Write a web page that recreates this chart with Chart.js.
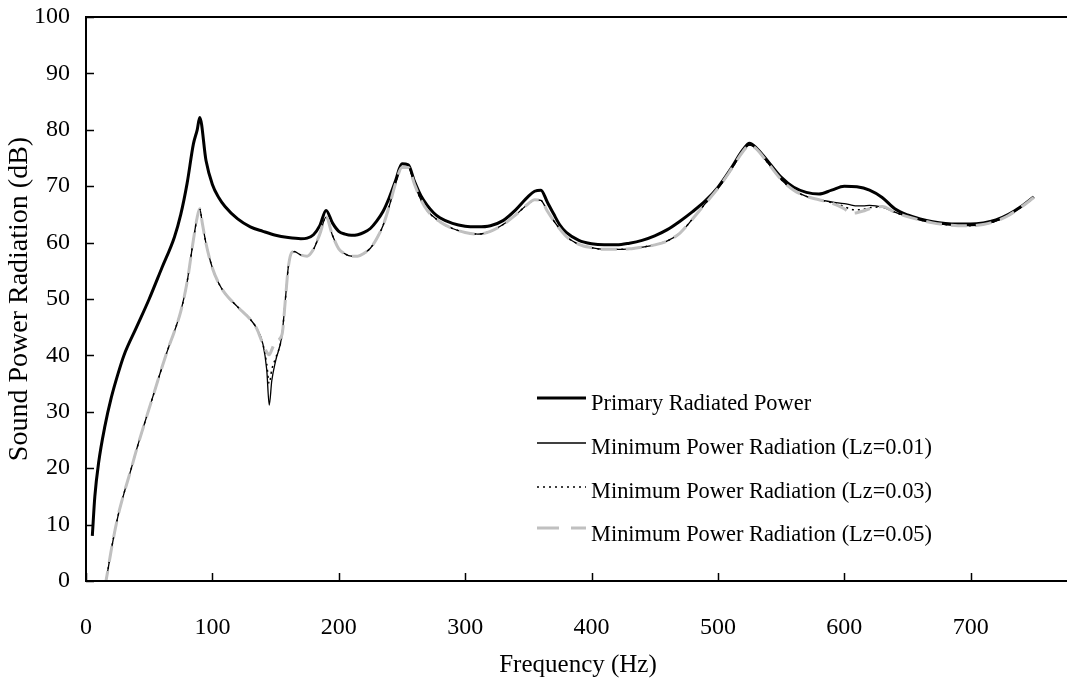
<!DOCTYPE html>
<html>
<head>
<meta charset="utf-8">
<script src="https://cdn.jsdelivr.net/npm/chart.js@4.4.1/dist/chart.umd.min.js"></script>
<style>
  html, body { margin: 0; padding: 0; background: #fff; overflow: hidden; width: 1067px; height: 679px; }
  #c { display: block; }
</style>
</head>
<body>
<canvas id="c" width="1100" height="679"></canvas>
<script>
// ---------- data ----------
const seriesNames = [
  'Primary Radiated Power',
  'Minimum Power Radiation (Lz=0.01)',
  'Minimum Power Radiation (Lz=0.03)',
  'Minimum Power Radiation (Lz=0.05)'
];
const xTickValues = [0, 100, 200, 300, 400, 500, 600, 700];
const yTickValues = [0, 10, 20, 30, 40, 50, 60, 70, 80, 90, 100];

const freqPrimary = [5,7,10,15,20,25,30,40,50,60,70,75,80,85,88,90,95,100,105,110,120,130,140,150,160,170,175,180,185,190,195,200,205,210,215,220,225,230,235,240,245,250,255,260,265,270,275,280,290,300,310,320,330,340,350,355,360,365,370,375,380,390,400,410,420,430,440,450,460,470,480,490,500,510,520,525,530,540,550,560,570,580,590,600,610,620,630,640,650,660,670,680,690,700,710,720,730,740,750];
const dbPrimary = [8,15,21,27.5,32.5,36.5,40,45,50,55.5,61,65,70.5,77.5,80,82.2,74.5,70.3,68,66.4,64.2,62.8,62,61.3,60.9,60.7,60.8,61.4,63,65.7,63.5,62,61.5,61.3,61.4,61.8,62.5,63.8,65.5,68,71,74,73.8,70.8,68.3,66.6,65.3,64.4,63.4,62.9,62.8,63,63.9,65.8,68.2,69.1,69.3,67.2,65.1,63.1,61.8,60.4,59.8,59.6,59.6,59.9,60.4,61.2,62.3,63.8,65.5,67.4,69.8,73,76.5,77.6,76.9,74.3,71.6,69.8,68.9,68.6,69.3,70,69.9,69.3,68,66,64.9,64.2,63.7,63.4,63.3,63.3,63.5,64,65,66.4,68.1];

const freqMin = [15,17,20,25,30,35,40,45,50,55,60,65,70,75,80,85,88,90,92,95,100,105,110,120,130,135,140,143,145,147,150,155,158,160,163,165,170,175,180,185,190,195,200,205,210,215,220,225,230,235,240,245,250,255,260,265,270,280,290,300,310,320,330,340,350,355,360,365,370,380,390,400,410,420,430,440,450,460,470,480,490,500,510,520,525,530,540,550,560,570,580,590,600,605,610,615,620,630,640,650,660,670,680,690,700,710,720,730,740,750];
const dbLz001 = [-1,1.5,5.5,11.2,15.5,19.3,23.3,27,30.6,34.2,37.8,41.2,44.3,47.8,53,60.5,64.5,66,63.5,59.8,55.5,52.8,51,48.6,46.4,44.8,42,37.5,31.2,35.5,39,43.5,50.5,55.5,58.3,58.4,57.8,57.6,58.8,61.5,64.5,61.3,58.9,58,57.6,57.6,58.1,59,60.7,63,66.5,70.5,73.3,73.3,70.3,67.6,65.7,63.7,62.5,61.8,61.5,62,63.2,64.9,66.9,67.6,67.5,65.6,63.9,61.1,59.7,59.1,58.8,58.8,58.9,59.2,59.6,60.3,61.7,64.2,66.9,69.6,72.8,76.2,77.3,76.7,74,71.2,69.3,68.2,67.6,67.2,66.9,66.7,66.5,66.5,66.6,66.3,65.4,64.6,64,63.5,63.2,63,63,63.2,63.8,64.8,66.3,68];
const dbLz003 = [-1,1.5,5.5,11.2,15.5,19.3,23.3,27,30.6,34.2,37.8,41.2,44.3,47.8,53,60.5,64.5,66,63.5,59.8,55.5,52.8,51,48.6,46.4,44.8,42,38.5,35,37.5,39.5,43.5,50.5,55.5,58.3,58.4,57.8,57.6,58.8,61.5,64.5,61.3,58.9,58,57.6,57.6,58.1,59,60.7,63,66.5,70.5,73.3,73.3,70.3,67.6,65.7,63.7,62.5,61.8,61.5,62,63.2,64.9,66.9,67.6,67.5,65.6,63.9,61.1,59.7,59.1,58.8,58.8,58.9,59.2,59.6,60.3,61.7,64.2,66.9,69.6,72.8,76.2,77.3,76.7,74,71.2,69.3,68.2,67.6,67.1,66.4,65.9,65.8,65.9,66.2,66.3,65.4,64.6,64,63.5,63.2,63,63,63.2,63.8,64.8,66.3,68];
const dbLz005 = [-1,1.5,5.5,11.2,15.5,19.3,23.3,27,30.6,34.2,37.8,41.2,44.3,47.8,53,60.5,64.5,66,63.5,59.8,55.5,52.8,51,48.6,46.4,44.8,42,40.6,40.1,41,42.5,43.6,50.5,55.5,58.3,58.4,57.8,57.6,58.8,61.5,64.5,61.3,58.9,58,57.6,57.6,58.1,59,60.7,63,66.5,70.5,73.3,73.3,70.3,67.6,65.7,63.7,62.5,61.8,61.5,62,63.2,64.9,66.9,67.6,67.5,65.6,63.9,61.1,59.7,59.1,58.8,58.8,58.9,59.2,59.6,60.3,61.7,64.2,66.9,69.6,72.8,76.2,77.3,76.7,74,71.2,69.3,68.2,67.6,67,66,65.2,65.3,65.6,66,66.4,65.4,64.6,64,63.5,63.2,63,63,63.2,63.8,64.8,66.3,68];

// ---------- styles ----------
const FONT = '"Liberation Serif", "Times New Roman", serif';
const pts = (xs, ys) => xs.map((v, i) => ({ x: v, y: ys[i] }));

const styles = [
  { borderColor: '#000000', borderWidth: 3,   borderDash: [] },
  { borderColor: '#000000', borderWidth: 1.3, borderDash: [] },
  { borderColor: '#000000', borderWidth: 1.5, borderDash: [2, 4] },
  { borderColor: '#c0c0c0', borderWidth: 3,   borderDash: [16, 9] }
];

const datasets = [
  { label: seriesNames[0], data: pts(freqPrimary, dbPrimary), order: 4, ...styles[0] },
  { label: seriesNames[1], data: pts(freqMin, dbLz001), order: 3, ...styles[1] },
  { label: seriesNames[2], data: pts(freqMin, dbLz003), order: 2, ...styles[2] },
  { label: seriesNames[3], data: pts(freqMin, dbLz005), order: 1, ...styles[3] }
].map(d => Object.assign(d, { pointRadius: 0, fill: false, cubicInterpolationMode: 'monotone', borderCapStyle: 'butt' }));

const overlay = {
  id: 'overlay',
  afterDraw(chart) {
    const { ctx, chartArea: a, scales: { x, y } } = chart;
    ctx.save();
    // plot frame
    ctx.strokeStyle = '#000';
    ctx.lineWidth = 2;
    ctx.strokeRect(a.left, a.top, a.right - a.left, a.bottom - a.top);
    // inward tick marks
    ctx.lineWidth = 1.5;
    ctx.beginPath();
    xTickValues.forEach(v => {
      const px = Math.round(x.getPixelForValue(v)) + 0.5;
      ctx.moveTo(px, a.bottom); ctx.lineTo(px, a.bottom - 8);
    });
    yTickValues.forEach(v => {
      const py = Math.round(y.getPixelForValue(v)) + 0.5;
      ctx.moveTo(a.left, py); ctx.lineTo(a.left + 8, py);
    });
    ctx.stroke();

    // legend
    const lx0 = 537, lx1 = 586, tx = 591;
    const lineY = [398, 443, 487, 528];
    const textY = [410, 454, 498, 541];
    ctx.font = '22.4px ' + FONT;
    ctx.fillStyle = '#000';
    ctx.textAlign = 'left';
    ctx.textBaseline = 'alphabetic';
    datasets.forEach((d, i) => {
      ctx.save();
      ctx.strokeStyle = d.borderColor;
      ctx.lineWidth = d.borderWidth;
      ctx.setLineDash(i === 3 ? [22, 12] : d.borderDash);
      ctx.beginPath();
      ctx.moveTo(lx0, lineY[i]); ctx.lineTo(lx1, lineY[i]);
      ctx.stroke();
      ctx.restore();
      ctx.fillText(d.label, tx, textY[i]);
    });

    // x axis title
    ctx.font = '25px ' + FONT;
    ctx.textAlign = 'center';
    ctx.textBaseline = 'middle';
    ctx.fillText('Frequency (Hz)', 578, 665);
    ctx.restore();
  }
};

new Chart(document.getElementById('c'), {
  type: 'line',
  data: { datasets },
  plugins: [overlay],
  options: {
    responsive: false,
    animation: false,
    devicePixelRatio: 1,
    layout: { padding: { top: 17, right: 3, left: 0, bottom: 0 } },
    plugins: { legend: { display: false }, tooltip: { enabled: false } },
    scales: {
      x: {
        type: 'linear', min: 0, max: 800,
        afterFit: s => { s.height = 98; s.paddingLeft = 0; s.paddingRight = 0; },
        afterBuildTicks: s => { s.ticks = xTickValues.map(v => ({ value: v })); },
        grid: { display: false, drawTicks: false },
        border: { display: false },
        ticks: { color: '#000', font: { family: FONT, size: 24 }, padding: 32, maxRotation: 0, autoSkip: false }
      },
      y: {
        type: 'linear', min: 0, max: 100,
        afterFit: s => { s.width = 86; s.paddingTop = 0; s.paddingBottom = 0; },
        afterBuildTicks: s => { s.ticks = yTickValues.map(v => ({ value: v })); },
        grid: { display: false, drawTicks: false },
        border: { display: false },
        ticks: { color: '#000', font: { family: FONT, size: 24 }, padding: 16 },
        title: { display: true, text: 'Sound Power Radiation (dB)', color: '#000', font: { family: FONT, size: 28 }, padding: { top: 3, bottom: 0 } }
      }
    }
  }
});
</script>
</body>
</html>
